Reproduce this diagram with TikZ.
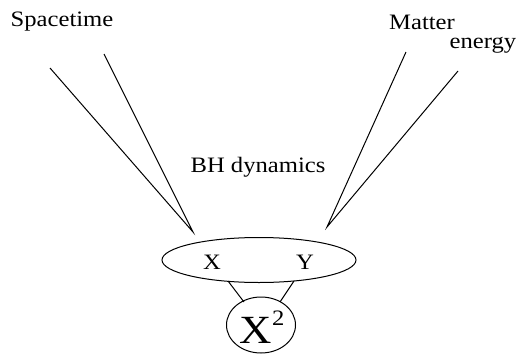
\documentclass[tikz,border=0pt]{standalone}
\usepackage{fontspec}
\setmainfont{Liberation Serif}[FakeStretch=1.12]
\usetikzlibrary{shapes.geometric}
\begin{document}
\begin{tikzpicture}[x=1pt,y=-1pt,
  lbl/.style={font=\fontsize{22}{24}\selectfont, inner sep=0pt},
  ln/.style={line width=1pt}]
\useasboundingbox (0,0) rectangle (517,354);
\node[lbl] (st) at (62,22) {Spacetime};
\node[lbl] (mt) at (422,22) {Matter};
\node[lbl] (en) at (483,45) {energy};
\node[lbl] (bh) at (258,167) {BH dynamics};
\node[ellipse, draw, line width=1pt, minimum width=194pt, minimum height=45pt, inner sep=0pt] (el) at (259,260) {};
\node[lbl] (x) at (212,262) {X};
\node[lbl] (y) at (305,262) {Y};
\node[ellipse, draw, line width=1pt, minimum width=69pt, minimum height=56pt, inner sep=0pt] (c) at (261,325) {};
\node[inner sep=0pt, font=\fontsize{40}{42}\selectfont] (c2) at (262,327) {X\raisebox{0.45em}{\fontsize{22}{22}\selectfont 2}};
\coordinate (a1) at (50,68);
\coordinate (a2) at (104,54);
\coordinate (ta) at (193,232);
\coordinate (b1) at (406,52);
\coordinate (b2) at (458,71);
\coordinate (tb) at (327,227);
\draw[ln] (a1) -- (ta) -- (a2);
\draw[ln] (b1) -- (tb) -- (b2);
\coordinate (l1) at (228,281);
\coordinate (l2) at (244,302);
\coordinate (r1) at (294,281);
\coordinate (r2) at (280,302);
\draw[ln] (l1) -- (l2);
\draw[ln] (r1) -- (r2);
\end{tikzpicture}
\end{document}
